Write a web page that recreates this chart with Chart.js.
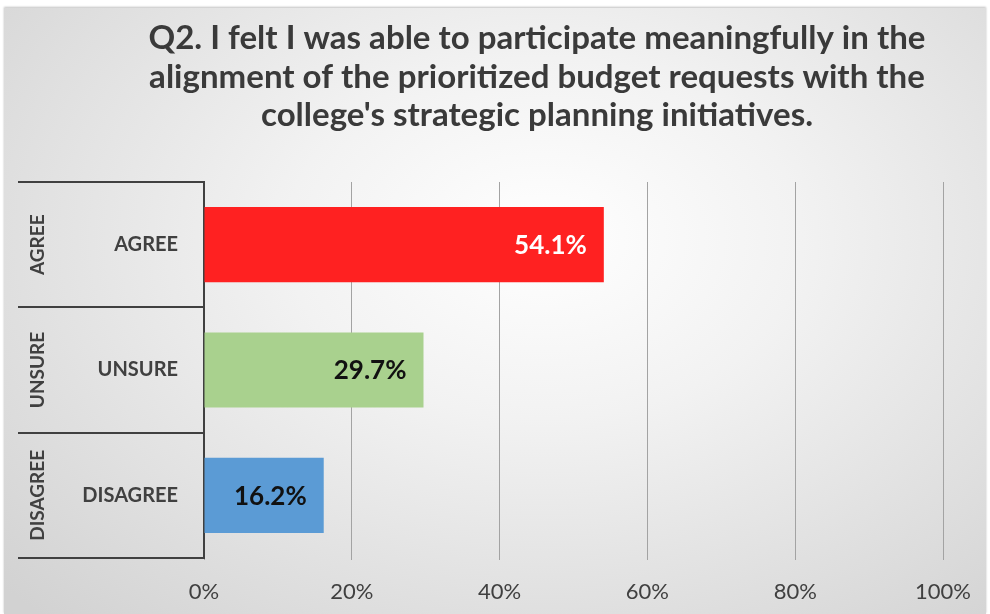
<!DOCTYPE html>
<html>
<head>
<meta charset="utf-8">
<script src="https://cdn.jsdelivr.net/npm/chart.js@4/dist/chart.umd.min.js"></script>
<style>
  body { margin: 0; background: #fff; }
  #wrap { position: relative; width: 990px; height: 614px; }
  #bg {
    position: absolute; left: 4px; top: 8px; right: 4px; bottom: 0;
    background: radial-gradient(ellipse 75% 85% at 55% 38%, #ffffff 0%, #f2f2f2 35%, #d2d2d2 100%);
    box-shadow: 0 -1px 2px rgba(0,0,0,0.25);
  }
  #chart { position: absolute; left: 0; top: 0; }
</style>
</head>
<body>
<div id="wrap">
  <div id="bg"></div>
  <canvas id="chart" width="990" height="614"></canvas>
</div>
<script>
// data
const groupLabels = ['AGREE', 'UNSURE', 'DISAGREE'];
const answerLabels = ['AGREE', 'UNSURE', 'DISAGREE'];
const percentValues = [54.1, 29.7, 16.2];
const barColors = ['#ff2121', '#a9d18e', '#5b9bd5'];
const valueColors = ['#ffffff', '#111111', '#111111'];
const titleLines = [
    'Q2. I felt I was able to participate meaningfully in the',
    'alignment of the prioritized budget requests with the',
    "college's strategic planning initiatives."
];

const FONT = 'Lato, "Open Sans", sans-serif';
const TEXT = '#404040';

// titel digambar manual supaya bisa digeser ke kanan seperti aslinya
const titlePlugin = {
    id: 'manualTitle',
    afterDraw(chart) {
        const ctx = chart.ctx;
        ctx.save();
        ctx.fillStyle = '#3a3a3a';
        ctx.textAlign = 'center';
        ctx.textBaseline = 'alphabetic';
        ctx.font = 'bold 33px ' + FONT;
        // baris pertama lebarnya kira-kira 777px di gambar asli
        const sx = 777 / ctx.measureText(titleLines[0]).width;
        const baselines = [49, 88, 126];
        titleLines.forEach((line, i) => {
            ctx.save();
            ctx.translate(537, baselines[i]);
            ctx.scale(sx, 1);
            ctx.fillText(line, 0, 0);
            ctx.restore();
        });
        ctx.restore();
    }
};

// kotak kategori luar (multi-level axis) + label luar diputar
const groupBoxPlugin = {
    id: 'groupBox',
    afterDraw(chart) {
        const ctx = chart.ctx;
        const y = chart.scales.y;
        const left = chart.chartArea.left;
        const step = y.getPixelForValue(1) - y.getPixelForValue(0);
        ctx.save();
        ctx.strokeStyle = TEXT;
        ctx.lineWidth = 2;
        for (let i = 0; i <= groupLabels.length; i++) {
            const py = Math.round(y.getPixelForValue(i) - step / 2);
            ctx.beginPath();
            ctx.moveTo(18, py);
            ctx.lineTo(left, py);
            ctx.stroke();
        }
        ctx.fillStyle = TEXT;
        ctx.font = 'bold 19px ' + FONT;
        ctx.textAlign = 'center';
        ctx.textBaseline = 'middle';
        groupLabels.forEach((lab, i) => {
            ctx.save();
            ctx.translate(38, y.getPixelForValue(i));
            ctx.rotate(-Math.PI / 2);
            ctx.fillText(lab, 0, 0);
            ctx.restore();
        });
        ctx.restore();
    }
};

// label nilai di ujung dalam batang
const valueLabelPlugin = {
    id: 'valueLabels',
    afterDatasetsDraw(chart) {
        const ctx = chart.ctx;
        const meta = chart.getDatasetMeta(0);
        ctx.save();
        ctx.font = 'bold 26px ' + FONT;
        ctx.textAlign = 'right';
        ctx.textBaseline = 'middle';
        meta.data.forEach((bar, i) => {
            ctx.fillStyle = valueColors[i];
            ctx.fillText(percentValues[i].toFixed(1) + '%', bar.x - 17, bar.y + 1);
        });
        ctx.restore();
    }
};

new Chart(document.getElementById('chart'), {
    type: 'bar',
    data: {
        labels: answerLabels,
        datasets: [{
            data: percentValues,
            backgroundColor: barColors,
            borderWidth: 0,
            barPercentage: 0.6,
            categoryPercentage: 1.0
        }]
    },
    options: {
        indexAxis: 'y',
        responsive: false,
        animation: false,
        layout: { padding: { top: 182, left: 0, right: 44, bottom: 0 } },
        plugins: {
            legend: { display: false },
            title: { display: false },
            tooltip: { enabled: false }
        },
        scales: {
            x: {
                min: 0,
                max: 100,
                ticks: {
                    stepSize: 20,
                    color: TEXT,
                    font: { family: FONT, size: 22 },
                    padding: 19,
                    callback: v => v + '%'
                },
                grid: { color: '#a3a3a3', lineWidth: 1, tickLength: 2 },
                border: { display: false },
                afterFit: s => { s.height = 56; }
            },
            y: {
                ticks: {
                    color: TEXT,
                    font: { family: FONT, size: 20, weight: 'bold' },
                    padding: 26
                },
                grid: { display: false, drawTicks: false },
                border: { display: true, color: TEXT, width: 2 },
                afterFit: s => { s.width = 204; }
            }
        }
    },
    plugins: [titlePlugin, groupBoxPlugin, valueLabelPlugin]
});
</script>
</body>
</html>
